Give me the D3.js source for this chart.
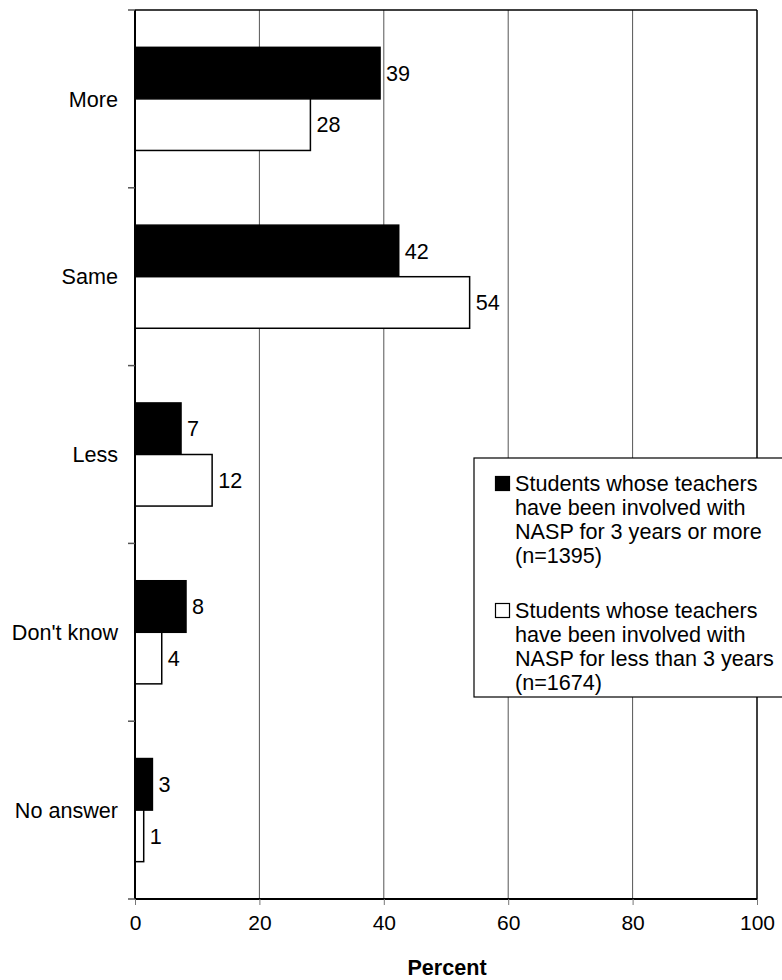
<!DOCTYPE html>
<html>
<head>
<meta charset="utf-8">
<script src="https://cdn.jsdelivr.net/npm/d3@7/dist/d3.min.js"></script>
<style>
  html, body { margin: 0; padding: 0; background: #fff; }
  svg { display: block; font-family: "Liberation Sans", Arial, sans-serif; }
</style>
</head>
<body>
<svg id="chart" width="782" height="980"></svg>
<script>
// ---- data ----
const categories = ["More", "Same", "Less", "Don't know", "No answer"];
const seriesNames = ["3plus", "less3"];
const valuesThreePlus = [39.4, 42.4, 7.4, 8.2, 2.8];
const valuesLessThree = [28.2, 53.8, 12.4, 4.3, 1.4];
const xTicks = [0, 20, 40, 60, 80, 100];
const xTitle = "Percent";
const legendBlack = ["Students whose teachers", "have been involved with", "NASP for 3 years or more", "(n=1395)"];
const legendWhite = ["Students whose teachers", "have been involved with", "NASP for less than 3 years", "(n=1674)"];

const rows = categories.map((c, i) => ({cat: c, vals: [valuesThreePlus[i], valuesLessThree[i]]}));

const svg = d3.select("#chart");
const L = 135, R = 757, T = 10, B = 899;
const FS = 21.6;

const x = d3.scaleLinear().domain([0, 100]).range([L, R]);
const y = d3.scaleBand().domain(categories).range([T, B]).paddingInner(0.42).paddingOuter(0.21);
const ySub = d3.scaleBand().domain(seriesNames).range([0, y.bandwidth()]);
const step = y.step();

// gridlines
svg.append("g").selectAll("line").data(xTicks.filter(t => t > 0 && t < 100)).join("line")
  .attr("x1", d => x(d)).attr("x2", d => x(d)).attr("y1", T).attr("y2", B)
  .attr("stroke", "#555").attr("stroke-width", 1);

// frame top & right
svg.append("line").attr("x1", L).attr("x2", R).attr("y1", T).attr("y2", T).attr("stroke", "#000").attr("stroke-width", 1.5);
svg.append("line").attr("x1", R).attr("x2", R).attr("y1", T).attr("y2", B).attr("stroke", "#000").attr("stroke-width", 1.5);

// bars
const g = svg.append("g");
rows.forEach(r => {
  r.vals.forEach((v, j) => {
    const yy = y(r.cat) + ySub(seriesNames[j]);
    g.append("rect")
      .attr("x", x(0)).attr("y", yy)
      .attr("width", x(v) - x(0)).attr("height", ySub.bandwidth())
      .attr("fill", j === 0 ? "#000" : "#fff")
      .attr("stroke", "#000").attr("stroke-width", 1.5);
    g.append("text")
      .attr("x", x(v) + 6).attr("y", yy + ySub.bandwidth() / 2)
      .attr("dy", "0.36em")
      .attr("font-size", FS).attr("fill", "#000")
      .text(Math.round(v));
  });
});

// x axis
const xAxis = d3.axisBottom(x).tickValues(xTicks).tickSize(6).tickPadding(10);
const gx = svg.append("g").attr("transform", `translate(0,${B})`).call(xAxis);
gx.select(".domain").attr("stroke", "#000").attr("stroke-width", 2).attr("d", `M${L},0H${R}`);
gx.selectAll(".tick line").attr("stroke", "#777");
gx.selectAll(".tick text").attr("font-size", 21).attr("font-family", "Liberation Sans, Arial, sans-serif").attr("fill", "#000");

// y axis
const gy = svg.append("g");
gy.append("line").attr("x1", L).attr("x2", L).attr("y1", T).attr("y2", B).attr("stroke", "#000").attr("stroke-width", 2);
gy.selectAll("line.tk").data(d3.range(categories.length + 1)).join("line").attr("class", "tk")
  .attr("x1", L - 7).attr("x2", L).attr("y1", i => T + i * step).attr("y2", i => T + i * step)
  .attr("stroke", "#555").attr("stroke-width", 1.5);
gy.selectAll("text").data(categories).join("text")
  .attr("x", L - 17).attr("y", d => y(d) + y.bandwidth() / 2)
  .attr("dy", "0.36em").attr("text-anchor", "end").attr("font-size", FS).attr("fill", "#000")
  .text(d => d);

// x title
svg.append("text").attr("x", (L + R) / 2 + 1).attr("y", 975)
  .attr("text-anchor", "middle").attr("font-size", FS).attr("font-weight", "bold").text(xTitle);

// legend
const lg = svg.append("g");
lg.append("rect").attr("x", 474).attr("y", 458).attr("width", 330).attr("height", 239)
  .attr("fill", "#fff").attr("stroke", "#000").attr("stroke-width", 1.2);
const entries = [{lines: legendBlack, fill: "#000", base: 491}, {lines: legendWhite, fill: "#fff", base: 618}];
entries.forEach(e => {
  lg.append("rect").attr("x", 495.5).attr("y", e.base - 14.5).attr("width", 14).attr("height", 14)
    .attr("fill", e.fill).attr("stroke", "#000").attr("stroke-width", 1.2);
  e.lines.forEach((t, k) => {
    lg.append("text").attr("x", 515).attr("y", e.base + k * 24).attr("font-size", FS).attr("fill", "#000").text(t);
  });
});
</script>
</body>
</html>
